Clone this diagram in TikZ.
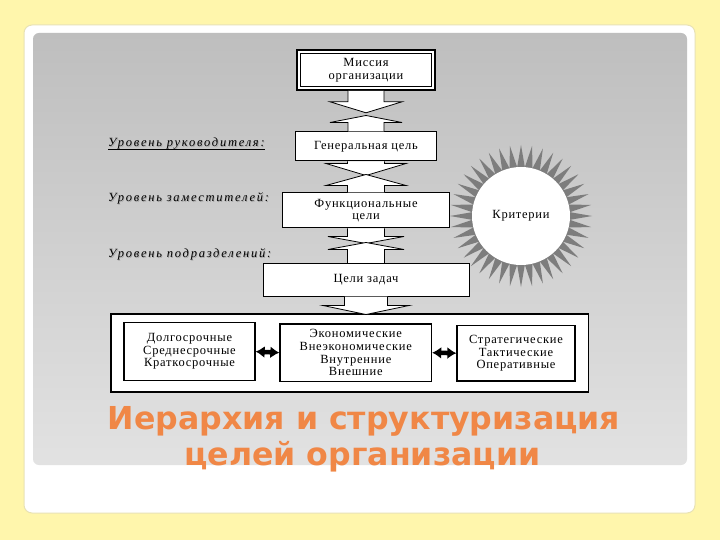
\documentclass[tikz,border=0pt]{standalone}
\usepackage{fontspec}
\setmainfont{Liberation Serif}
\newfontfamily\boxfont[LetterSpace=6]{Liberation Serif}
\newfontfamily\lblfont[LetterSpace=14]{Liberation Serif}
\newfontfamily\titlefont{DejaVu Sans}
\usetikzlibrary{calc,arrows.meta}
\definecolor{bgyellow}{RGB}{255,246,172}
\definecolor{cardedge}{RGB}{232,226,180}
\definecolor{paneltop}{RGB}{190,190,190}
\definecolor{panelbot}{RGB}{226,226,226}
\definecolor{titleorange}{RGB}{240,135,70}
\definecolor{spikegray}{RGB}{125,125,125}
\newcommand\dnarr[5]{\filldraw[arrowshape] ($(#1.south)+(-#4,0)$) -- ++(0,#2) -- ++(-#5+#4,0) -- ++(#5,#3) -- ++(#5,-#3) -- ++(-#5+#4,0) -- ++(0,-#2);}
\newcommand\uparr[5]{\filldraw[arrowshape] ($(#1.north)+(-#4,0)$) -- ++(0,-#2) -- ++(-#5+#4,0) -- ++(#5,-#3) -- ++(#5,#3) -- ++(-#5+#4,0) -- ++(0,#2);}
\begin{document}
\begin{tikzpicture}[x=1pt,y=-1pt,
  box/.style={draw=black, fill=white, line width=1pt, inner sep=0pt, align=center,
    font=\boxfont\fontsize{12.5}{12.6}\selectfont},
  arrowshape/.style={draw=black, fill=white, line width=0.8pt, line join=miter},
  lbl/.style={inner sep=0pt, anchor=base west, font=\lblfont\itshape\fontsize{12.5}{14}\selectfont},
  lblshadow/.style={lbl, text=black!35},
  linkarrow/.style={{Latex[length=9pt,width=12pt]}-{Latex[length=9pt,width=12pt]}, line width=4.5pt, black},
  titletext/.style={inner sep=0pt, anchor=base, text=titleorange, font=\titlefont\bfseries\fontsize{31.6}{36}\selectfont}
]
\useasboundingbox (0,0) rectangle (720,540);
\fill[bgyellow] (0,0) rectangle (720,540);
% card and panel
\filldraw[fill=white, draw=cardedge, line width=1pt, rounded corners=8] (24,25) rectangle (695,513);
\shade[top color=paneltop, bottom color=panelbot, rounded corners=6] (33,33) rectangle (687,465);

% main boxes
\node[box, line width=1.6pt, minimum width=137.5pt, minimum height=40pt] (mission) at (366,70) {Миссия\\организации};
\draw[line width=0.8pt] ($(mission.south west)+(4,-4)$) rectangle ($(mission.north east)+(-4,4)$);
\node[box, minimum width=141pt, minimum height=29pt] (gen) at (366,146.5) {Генеральная цель};
\node[box, minimum width=167pt, minimum height=35pt] (func) at (366,210.5) {Функциональные\\цели};
\node[box, minimum width=206pt, minimum height=32.6pt] (celi) at (366,279.7) {Цели задач};

% block arrows
\dnarr{mission}{11}{11}{18}{36}
\uparr{gen}{9}{7}{18}{36}
\dnarr{gen}{2}{12}{18.5}{40}
\uparr{func}{7}{11}{18.5}{40}
\dnarr{func}{8}{7}{18.5}{38}
\uparr{celi}{13.4}{7}{18.5}{38}

% bottom group
\node[box, line width=1.3pt, minimum width=477.6pt, minimum height=78pt] (group) at (349.8,353) {};
\dnarr{celi}{9}{9}{21.5}{43}
\node[box, line width=1.3pt, minimum width=131pt, minimum height=57.8pt] (term) at (189.5,351.6) {Долгосрочные\\Среднесрочные\\Краткосрочные};
\node[box, line width=1.3pt, minimum width=151.6pt, minimum height=57.5pt] (kind) at (355.8,352.7) {Экономические\\Внеэкономические\\Внутренние\\Внешние};
\node[box, line width=1.3pt, minimum width=118pt, minimum height=55.6pt] (level) at (516,353.2) {Стратегические\\Тактические\\Оперативные};
\draw[linkarrow] (term.east) -- (kind.west);
\draw[linkarrow] (kind.east) -- (level.west);

% criteria starburst
\coordinate (cc) at (521,216);
\fill[spikegray, shift={(cc)}] (0:71) \foreach \k in {1,...,79}{ -- ({\k*4.5}:{mod(\k,2)==1 ? 49 : 71}) } -- cycle;
\node[circle, fill=white, minimum size=98pt, inner sep=0pt, font=\boxfont\fontsize{12.5}{12.6}\selectfont] (crit) at (cc) {Критерии};

% level labels
\node[lblshadow] at (108.8,147.8) {Уровень руководителя:};
\node[lbl] (lvl1) at (108,147) {Уровень руководителя:};
\draw[line width=0.6pt] ($(lvl1.base west)+(0,2)$) -- ($(lvl1.base east)+(0,2)$);
\node[lblshadow] at (108.8,202.8) {Уровень заместителей:};
\node[lbl] (lvl2) at (108,202) {Уровень заместителей:};
\node[lblshadow] at (108.8,258.8) {Уровень подразделений:};
\node[lbl] (lvl3) at (108,258) {Уровень подразделений:};

% title
\node[titletext] (title1) at (364,429) {Иерархия и структуризация};
\node[titletext] (title2) at (362.5,465) {целей организации};
\end{tikzpicture}
\end{document}
